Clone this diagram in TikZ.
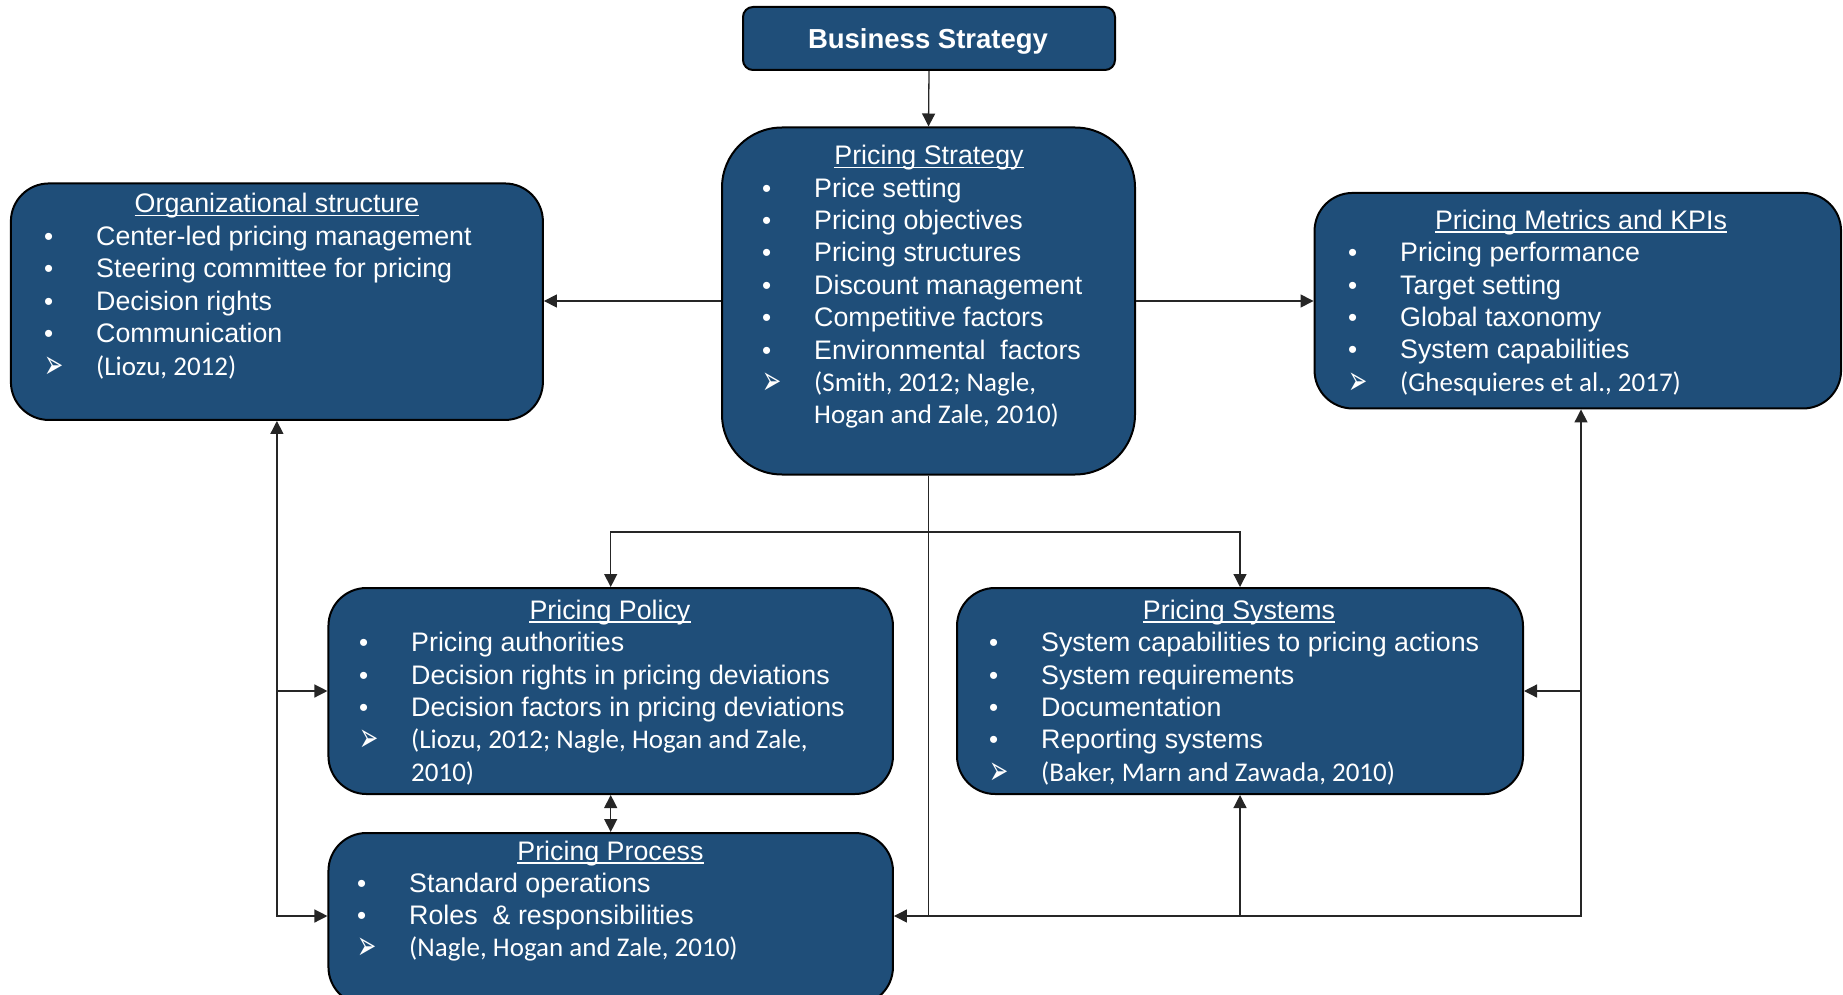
\documentclass[tikz,border=0pt]{standalone}
\usepackage{fontspec}
\setmainfont{Liberation Sans}
\newfontfamily\calfont{Carlito}
\newfontfamily\djfont{DejaVu Sans}
\usetikzlibrary{arrows.meta}
\definecolor{boxblue}{RGB}{31,78,121}
\newlength\bulw \setlength\bulw{52pt}
\newcommand\bitem[1]{\makebox[\bulw][l]{\raisebox{0pt}{\fontsize{26}{26}\selectfont\textbullet}}#1}
\newcommand\aitem[1]{\makebox[\bulw][l]{\raisebox{-3pt}{\scalebox{0.85}[1.5]{\djfont\fontsize{27}{27}\selectfont ➢}}}{\calfont\fontsize{27}{32.4}\selectfont #1}}
\newcommand\citecont[1]{\hspace*{\bulw}{\calfont\fontsize{27}{32.4}\selectfont #1}}
\newcommand\lstab[1]{\begin{tabular}[t]{@{}l@{}}#1\end{tabular}}
\begin{document}
\begin{tikzpicture}[x=1pt,y=-1pt,
  box/.style={draw=black, line width=2pt, fill=boxblue, inner sep=0pt},
  ttl/.style={text=white, anchor=base, inner sep=0pt, font=\fontsize{26.8}{32.4}\selectfont},
  lst/.style={text=white, anchor=base west, inner sep=0pt, font=\fontsize{26.8}{32.4}\selectfont},
  uline/.style={white, line width=1.8pt},
  conn/.style={draw=black!85, line width=1.3pt},
  arr/.style={conn, -{Triangle[length=13pt,width=13pt]}},
  darr/.style={conn, {Triangle[length=13pt,width=13pt]}-{Triangle[length=13pt,width=13pt]}},
]
\useasboundingbox (0,0) rectangle (1843,995);
\clip (0,0) rectangle (1843,995);

% boxes
\node[box, minimum width=372pt, minimum height=63pt, rounded corners=10pt] (bs) at (929,38.5) {};
\node[box, minimum width=413pt, minimum height=347pt, rounded corners=60pt] (ps) at (928.5,301) {};
\node[box, minimum width=532pt, minimum height=236.5pt, rounded corners=38pt] (org) at (276.9,301.7) {};
\node[box, minimum width=526.5pt, minimum height=215.5pt, rounded corners=38pt] (met) at (1577.8,300.7) {};
\node[box, minimum width=564.5pt, minimum height=206pt, rounded corners=38pt] (pol) at (610.7,691) {};
\node[box, minimum width=564.5pt, minimum height=172pt, rounded corners=38pt] (proc) at (610.7,919) {};
\node[box, minimum width=566pt, minimum height=206pt, rounded corners=38pt] (sys) at (1240,691) {};

% texts
\node[text=white, anchor=base, inner sep=0pt, font=\bfseries\fontsize{27.5}{30}\selectfont] (bst) at (928,48.3) {Business Strategy};

\node[ttl] (pst) at (929,164.5) {Pricing Strategy};
\node[lst] (psl) at (762,197) {\lstab{\bitem{Price setting}\\ \bitem{Pricing objectives}\\ \bitem{Pricing structures}\\ \bitem{Discount management}\\ \bitem{Competitive factors}\\ \bitem{Environmental\hspace{15pt}factors}\\ \aitem{(Smith, 2012; Nagle,}\\ \citecont{Hogan and Zale, 2010)}}};

\node[ttl] (orgt) at (277,212.5) {Organizational structure};
\node[lst] (orgl) at (44,245.5) {\lstab{\bitem{Center-led pricing management}\\ \bitem{Steering committee for pricing}\\ \bitem{Decision rights}\\ \bitem{Communication}\\ \aitem{(Liozu, 2012)}}};

\node[ttl] (mett) at (1581,229.3) {Pricing Metrics and KPIs};
\node[lst] (metl) at (1348,261.7) {\lstab{\bitem{Pricing performance}\\ \bitem{Target setting}\\ \bitem{Global taxonomy}\\ \bitem{System capabilities}\\ \aitem{(Ghesquieres et al., 2017)}}};

\node[ttl] (polt) at (610,619.3) {Pricing Policy};
\node[lst] (poll) at (359,651.7) {\lstab{\bitem{Pricing authorities}\\ \bitem{Decision rights in pricing deviations}\\ \bitem{Decision factors in pricing deviations}\\ \aitem{(Liozu, 2012; Nagle, Hogan and Zale,}\\ \citecont{2010)}}};

\node[ttl] (proct) at (610.5,860) {Pricing Process};
\node[lst] (procl) at (357,892) {\lstab{\bitem{Standard operations}\\ \bitem{Roles\hspace{15pt}\& responsibilities}\\ \aitem{(Nagle, Hogan and Zale, 2010)}}};

\node[ttl] (syst) at (1239,619.3) {Pricing Systems};
\node[lst] (sysl) at (989,651.7) {\lstab{\bitem{System capabilities to pricing actions}\\ \bitem{System requirements}\\ \bitem{Documentation}\\ \bitem{Reporting systems}\\ \aitem{(Baker, Marn and Zawada, 2010)}}};

% underlines
\foreach \t in {pst,orgt,mett,polt,proct,syst}
  \draw[uline] ([yshift=-3pt]\t.base west) -- ([yshift=-3pt]\t.base east);

% connectors
\coordinate (j1) at (928.5,532);
\coordinate (rb) at (1581,916);
\coordinate (lb) at (276.9,916);
\draw[arr] (bs.south) -- (ps.north);
\draw[arr] (ps.west) -- (ps.west -| org.east);
\draw[arr] (ps.east) -- (ps.east -| met.west);
\draw[conn] (ps.south) -- (ps.south |- rb);
\draw[darr] (pol.north) |- (j1) -| (sys.north);
\draw[darr] (rb |- met.south) |- (proc.east |- rb);
\draw[arr] (rb |- sys.east) -- (sys.east);
\draw[arr] (sys.south |- rb) -- (sys.south);
\draw[darr] (org.south) |- (lb -| proc.west);
\draw[arr] (lb |- pol.west) -- (pol.west);
\draw[darr] (pol.south) -- (proc.north);
\end{tikzpicture}
\end{document}
